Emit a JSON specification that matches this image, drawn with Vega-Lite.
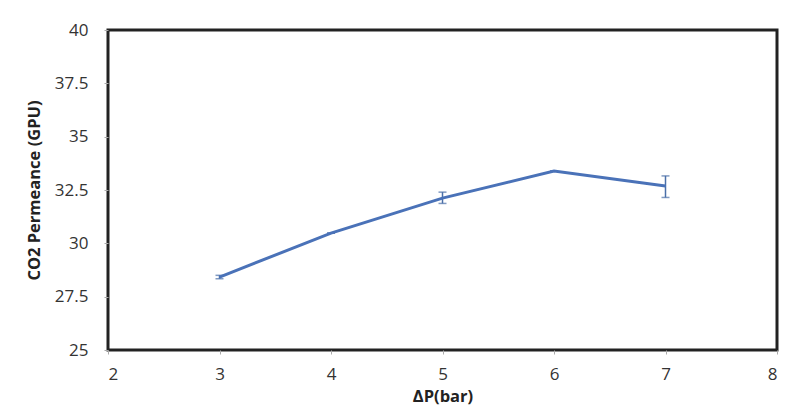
{
  "$schema": "https://vega.github.io/schema/vega-lite/v6.json",
  "width": 669,
  "height": 320,
  "autosize": "none",
  "padding": {"left": 108, "top": 30, "right": 8, "bottom": 68},
  "background": "white",
  "config": {
    "view": {"stroke": "#222222", "strokeWidth": 3},
    "font": "Open Sans",
    "axis": {
      "grid": false,
      "domain": false,
      "tickColor": "#aaaaaa",
      "tickSize": 4,
      "labelFont": "Open Sans",
      "labelFontSize": 17,
      "labelColor": "#333333",
      "titleFont": "Open Sans",
      "titleFontSize": 16.5,
      "titleFontWeight": "bold",
      "titleColor": "#222222"
    }
  },
  "data": {
    "values": [
      {"dp": 3, "perm": 28.42, "lo": 28.34, "hi": 28.5},
      {"dp": 4, "perm": 30.48, "lo": 30.48, "hi": 30.48},
      {"dp": 5, "perm": 32.12, "lo": 31.87, "hi": 32.4},
      {"dp": 6, "perm": 33.39, "lo": 33.39, "hi": 33.39},
      {"dp": 7, "perm": 32.69, "lo": 32.15, "hi": 33.16}
    ]
  },
  "encoding": {
    "x": {
      "field": "dp",
      "type": "quantitative",
      "scale": {"domain": [2, 8], "nice": false, "zero": false},
      "axis": {"values": [2, 3, 4, 5, 6, 7, 8], "format": ".3~g", "title": "ΔP(bar)", "labelPadding": 12, "titlePadding": 6}
    }
  },
  "layer": [
    {
      "mark": {"type": "rule", "color": "#4a6fa8", "strokeWidth": 1.5},
      "encoding": {
        "y": {
          "field": "lo", "type": "quantitative",
          "scale": {"domain": [25, 40], "nice": false, "zero": false},
          "axis": {"values": [25, 27.5, 30, 32.5, 35, 37.5, 40], "format": ".3~g", "title": "CO2 Permeance (GPU)", "labelPadding": 16, "titlePadding": 12}
        },
        "y2": {"field": "hi"}
      }
    },
    {
      "mark": {"type": "tick", "color": "#4a6fa8", "thickness": 1.5, "size": 8, "orient": "horizontal"},
      "encoding": {
        "y": {
          "field": "lo", "type": "quantitative",
          "scale": {"domain": [25, 40], "nice": false, "zero": false},
          "axis": {"values": [25, 27.5, 30, 32.5, 35, 37.5, 40], "format": ".3~g", "title": "CO2 Permeance (GPU)", "labelPadding": 16, "titlePadding": 12}
        }
      }
    },
    {
      "mark": {"type": "tick", "color": "#4a6fa8", "thickness": 1.5, "size": 8, "orient": "horizontal"},
      "encoding": {
        "y": {
          "field": "hi", "type": "quantitative",
          "scale": {"domain": [25, 40], "nice": false, "zero": false},
          "axis": {"values": [25, 27.5, 30, 32.5, 35, 37.5, 40], "format": ".3~g", "title": "CO2 Permeance (GPU)", "labelPadding": 16, "titlePadding": 12}
        }
      }
    },
    {
      "mark": {"type": "line", "color": "#4a72b8", "strokeWidth": 3},
      "encoding": {
        "y": {
          "field": "perm", "type": "quantitative",
          "scale": {"domain": [25, 40], "nice": false, "zero": false},
          "axis": {"values": [25, 27.5, 30, 32.5, 35, 37.5, 40], "format": ".3~g", "title": "CO2 Permeance (GPU)", "labelPadding": 16, "titlePadding": 12}
        }
      }
    }
  ]
}
